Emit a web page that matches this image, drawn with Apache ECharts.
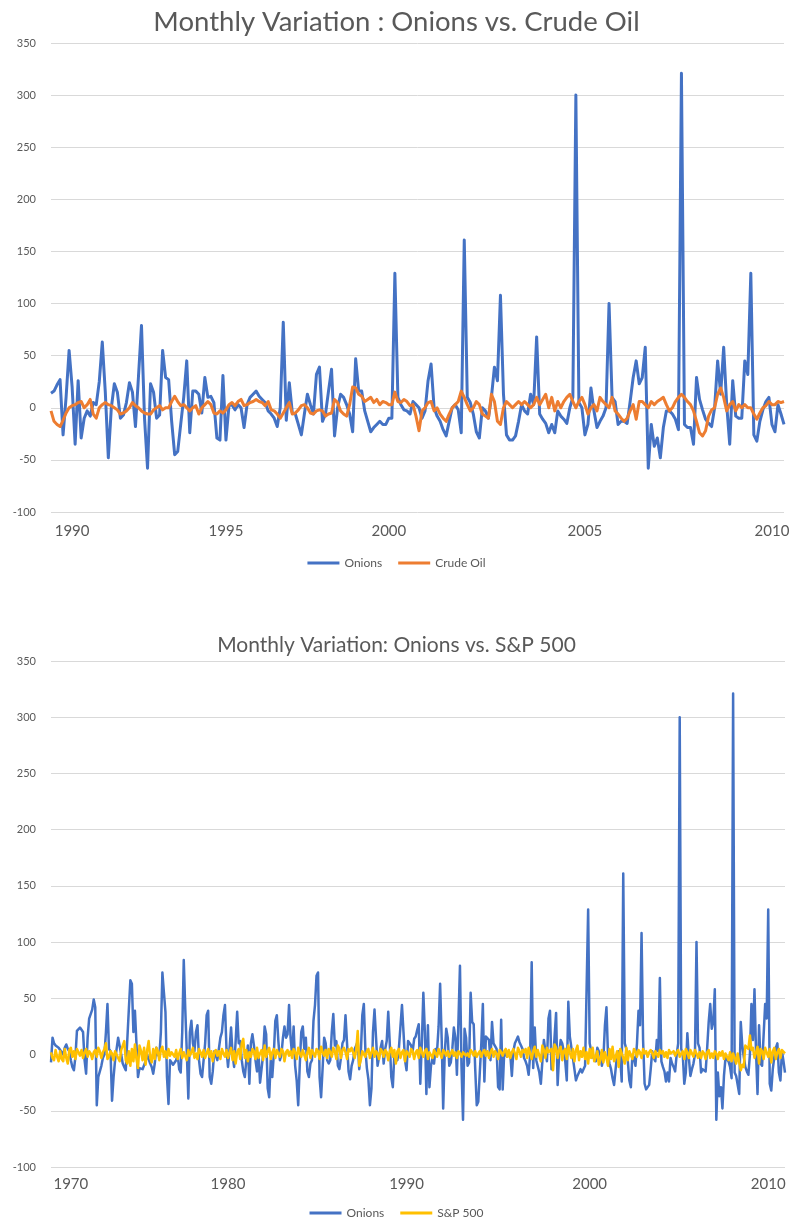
<!DOCTYPE html>
<html>
<head>
<meta charset="utf-8">
<script src="https://cdn.jsdelivr.net/npm/echarts@6/dist/echarts.min.js"></script>
<style>
html,body{margin:0;padding:0;background:#fff;}
#chart{width:793px;height:1221px;}
</style>
</head>
<body>
<div id="chart"></div>
<script>
// ---------- DATA ----------
// Onions monthly variation, 1990-2010 (shared by both charts)
const onions = [
  14,16,22,27,-26,10,55,20,-35,26,
  -29,-10,-3,-8,5,3,25,63,15,-48,
  0,23,15,-10,-7,5,24,15,-18,30,
  79,-10,-58,23,15,-10,-7,55,29,27,
  -13,-45,-42,-16,10,45,-24,16,16,13,
  -5,29,10,11,5,-29,-31,31,-31,2,
  3,-2,3,0,-19,3,10,13,16,11,
  8,5,-3,-6,-10,-18,0,82,-12,24,
  -5,-6,-16,-26,-6,13,3,-6,32,39,
  -13,-6,16,37,-27,0,13,10,3,-6,
  -23,47,16,16,-3,-13,-23,-19,-16,-13,
  -16,-16,-10,-10,129,10,3,-2,-3,-6,
  6,3,0,-10,-3,26,42,0,-8,-13,
  -21,-27,-13,0,3,-2,-24,161,10,5,
  -6,-23,-29,0,-3,-10,10,39,26,108,
  13,-26,-31,-31,-27,-13,3,-3,-6,13,
  3,68,-6,-11,-15,-24,-16,-24,-3,-8,
  -11,-15,0,10,300,5,0,-26,-16,19,
  -3,-19,-13,-8,0,100,10,6,-16,-13,
  -13,-15,6,29,45,23,29,58,-58,-16,
  -37,-29,-48,-19,-3,-3,-6,-11,-21,321,
  -16,-19,-19,-35,29,8,-2,-11,-15,-18,
  0,45,13,58,3,-35,26,-8,-10,-10,
  45,32,129,-26,-32,-13,-2,6,10,-16,
  -23,3,-6,-16
];
// Crude oil monthly variation, 1990-2010
const crudeOil = [
  -3,-13,-16,-18,-12,-5,0,2,3,5,
  6,0,3,8,-6,-10,0,3,5,3,
  2,0,-2,-6,-5,-3,0,5,2,0,
  -3,-5,-6,-6,-2,0,2,-2,0,0,
  6,11,6,2,3,0,-3,0,2,-6,
  0,3,6,3,-5,-6,-3,-5,-2,3,
  5,2,6,8,2,3,5,6,8,6,
  5,2,6,-2,-3,-6,-10,-5,0,5,
  -6,-5,-2,2,3,0,-5,-6,-3,-2,
  -3,-8,-6,-5,8,5,-3,-6,-8,3,
  20,19,13,11,6,8,10,5,8,3,
  6,5,3,3,15,6,5,8,6,2,
  3,-8,-22,-3,0,5,6,-3,0,-6,
  -10,-13,-6,0,3,6,16,10,3,-3,
  0,6,3,-6,-8,-10,13,6,-13,-16,
  0,6,3,0,3,6,3,6,3,0,
  3,10,3,8,13,0,10,-3,6,0,
  6,10,13,6,0,6,10,3,-6,0,
  3,-3,10,6,3,0,10,-3,-6,-10,
  -13,-10,-3,3,-11,6,6,3,0,6,
  3,6,8,10,3,-3,0,6,10,13,
  10,6,3,-3,-13,-24,-27,-22,-8,-2,
  0,13,19,10,-3,3,6,-3,3,0,
  3,0,0,-6,-11,-5,0,2,6,3,
  3,6,5,6
];
// Onions monthly variation, 1969-1989 (earlier part of the long series)
const onionsEarly = [
  -7,15,10,8,7,6,5,2,0,6,
  9,5,3,-5,-11,-14,-2,21,22,24,
  23,20,-5,-17,15,32,32,40,49,42,
  -45,-20,-15,-10,-3,0,20,45,5,3,
  -41,-20,-5,5,15,16,0,-8,-11,-14,
  -14,40,66,63,20,39,10,-20,-12,-11,
  -13,-14,-6,0,0,-8,-11,-17,-8,6,
  0,-2,20,73,55,38,-20,-44,-5,-5,
  -9,-8,-5,0,-13,-16,20,84,40,2,
  -39,20,30,10,3,20,26,-5,-17,-20,
  -20,10,35,39,-20,-26,-15,3,3,-5,
  -5,15,20,35,44,5,-11,5,24,0,
  -11,12,38,10,12,-5,-15,-20,-5,8,
  -26,10,18,8,-5,-15,0,-25,-25,0,
  25,18,-30,-38,-5,-20,0,30,35,12,
  -5,0,15,25,15,18,44,15,0,25,
  -10,-23,-45,-10,20,25,5,15,-15,-20,
  -8,-5,30,44,70,73,-20,-38,-12,15,
  10,-5,-8,-5,20,36,8,12,-10,-13,
  -3,10,13,35,10,-15,-22,-10,-5,5,
  8,12,-13,0,35,45,5,-12,-22,-45,
  -30,20,40,15,-10,-11,6,12,-8,5,
  12,38,10,-20,-29,0,0,-5,6,25,
  44,20,-5,-14,12,10,8,3
];
// S&P 500 monthly variation, 1969-2010
const sp500 = [
  2,-3,-5,4,-2,-6,3,-4,-6,5,-3,-8,4,6,-2,3,-4,5,2,-1,
  4,-3,2,5,-2,3,1,-4,2,4,-2,6,3,-3,2,5,10,-4,-2,3,
  1,-5,3,4,-3,-6,4,8,12,-5,-8,3,-10,5,-6,9,-4,-12,8,3,
  -5,6,-9,4,12,-3,-7,5,-4,6,3,-5,4,7,-2,3,-3,5,-1,2,
  3,-2,4,-4,1,5,-3,2,3,-5,4,-1,2,6,-3,1,-4,5,2,-2,
  4,-3,1,5,-2,3,-6,2,4,-1,3,-4,5,1,-2,4,-3,2,6,-5,
  3,-8,2,5,-4,10,14,-3,4,-6,2,-2,5,3,-4,6,-3,1,4,-5,
  8,-2,3,6,-4,2,5,-3,4,1,-2,5,3,-6,2,4,-1,3,-3,5,
  2,-4,6,1,-2,4,3,-5,2,6,-3,4,1,-2,5,3,-4,7,2,-1,
  4,-3,5,2,-2,6,3,-4,8,5,-3,4,6,2,-4,5,3,6,2,-3,
  4,21,-10,-5,3,4,-2,3,5,-3,2,6,-2,3,1,-4,5,3,-2,4,
  2,-5,3,6,-2,4,-8,3,5,-3,2,4,-6,3,1,-2,5,3,-4,2,
  4,-3,6,2,-2,3,5,-4,2,1,-3,4,3,-2,5,1,-3,4,2,-1,
  3,-2,1,4,-1,2,-3,3,1,-2,2,3,-1,1,-2,4,2,-1,3,-2,
  1,3,-2,2,4,-1,3,-3,2,5,-2,3,1,-4,4,2,-1,3,5,-2,
  4,-3,2,5,1,-4,6,3,-2,4,2,5,-3,6,1,-4,3,7,-2,4,
  5,-6,8,4,-3,6,2,3,5,-14,9,6,-3,4,7,-5,3,5,-4,8,
  2,-3,5,-6,4,8,-5,3,-2,6,-4,2,-8,5,-3,6,-6,-2,3,-9,
  -5,4,-7,2,-3,-10,5,-4,7,-6,-2,3,-11,5,4,-3,-8,6,-5,3,
  2,-4,5,3,-2,4,2,-3,5,1,3,-2,2,4,1,-3,3,2,-2,4,
  1,3,-2,2,-3,4,1,2,3,-1,2,4,-2,1,3,-4,5,2,-3,4,
  3,-2,4,1,-3,2,-3,3,1,-4,2,4,-3,1,-3,3,1,-4,2,-1,
  3,-4,1,-2,-5,2,-6,1,-3,-8,1,-7,-14,-9,-11,8,9,5,17,4,
  6,-3,2,7,-8,5,3,-4,6,2,-2,5,-7,3,6,-4,2,5,-3,4,3,1
];
// Year tick labels and the data point under which each is printed
const topYearLabels = ['1990','1995','2000','2005','2010'];
const topYearAt     = [7, 58, 112, 177, 239];
const botYearLabels = ['1970','1980','1990','2000','2010'];
const botYearAt     = [13, 116, 233, 353, 470];
const yTicks = { min: -100, max: 350, step: 50 };

// ---------- BUILD ----------
const onionsLong = onionsEarly.concat(onions);
function cats(n, at, labels) {
  const a = [];
  for (let i = 0; i < n; i++) {
    const k = at.indexOf(i);
    a.push(k >= 0 ? labels[k] : '');
  }
  return a;
}
const topCats = cats(onions.length, topYearAt, topYearLabels);
const botCats = cats(onionsLong.length, botYearAt, botYearLabels);

const FONT = 'Lato, "Open Sans", sans-serif';
const GREY = '#595959';
const BLUE = '#4472C4', ORANGE = '#ED7D31', YELLOW = '#FFC000';

function xAxis(gi, data, margin) {
  return {
    type: 'category', gridIndex: gi, data: data, boundaryGap: false,
    axisLine: { show: false }, axisTick: { show: false }, splitLine: { show: false },
    axisLabel: { interval: 0, color: GREY, fontSize: 15, fontFamily: FONT, margin: margin }
  };
}
function yAxis(gi) {
  return {
    type: 'value', gridIndex: gi, min: yTicks.min, max: yTicks.max, interval: yTicks.step,
    axisLine: { show: false }, axisTick: { show: false },
    axisLabel: { color: GREY, fontSize: 11, fontFamily: FONT, margin: 15 },
    splitLine: { lineStyle: { color: '#D9D9D9', width: 1 } }
  };
}
function line(name, data, xi, color, w, z) {
  return {
    name: name, type: 'line', xAxisIndex: xi, yAxisIndex: xi, data: data,
    symbol: 'none', showSymbol: false, z: z,
    lineStyle: { color: color, width: w, join: 'round' }, itemStyle: { color: color }
  };
}
const LEGEND_ICON = 'rect';

const chart = echarts.init(document.getElementById('chart'), null, { renderer: 'canvas' });
chart.setOption({
  animation: false,
  backgroundColor: '#ffffff',
  title: [
    { text: 'Monthly Variation : Onions vs. Crude Oil', left: 'center', top: 3,
      textStyle: { fontSize: 27.5, fontWeight: 'normal', color: GREY, fontFamily: FONT } },
    { text: 'Monthly Variation: Onions vs. S&P 500', left: 'center', top: 630,
      textStyle: { fontSize: 21, fontWeight: 'normal', color: GREY, fontFamily: FONT } }
  ],
  legend: [
    { data: ['Onions', 'Crude Oil'], left: 'center', top: 552, icon: LEGEND_ICON,
      itemWidth: 32, itemHeight: 3, itemGap: 16,
      textStyle: { color: GREY, fontSize: 12, fontFamily: FONT } },
    { data: ['Onions', 'S&P 500'], left: 'center', top: 1202, icon: LEGEND_ICON,
      itemWidth: 32, itemHeight: 3, itemGap: 16,
      textStyle: { color: GREY, fontSize: 12, fontFamily: FONT } }
  ],
  grid: [
    { left: 51, right: 9, top: 43, height: 469 },
    { left: 51, right: 8, top: 661, height: 506 }
  ],
  xAxis: [ xAxis(0, topCats, 12), xAxis(1, botCats, 10) ],
  yAxis: [ yAxis(0), yAxis(1) ],
  series: [
    line('Onions', onions, 0, BLUE, 3, 2),
    line('Crude Oil', crudeOil, 0, ORANGE, 3, 3),
    line('Onions', onionsLong, 1, BLUE, 2.5, 2),
    line('S&P 500', sp500, 1, YELLOW, 2.5, 3)
  ]
});
</script>
</body>
</html>
